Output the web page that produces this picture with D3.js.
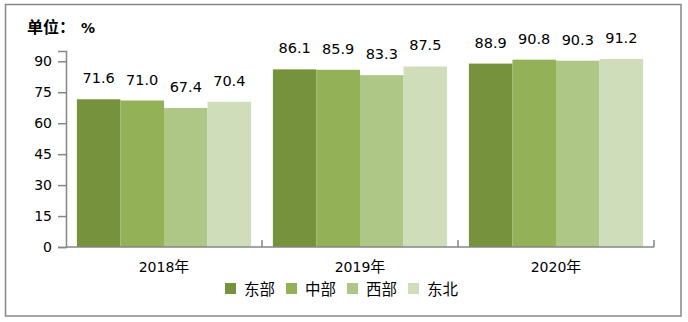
<!DOCTYPE html>
<html>
<head>
<meta charset="utf-8">
<script src="https://cdn.jsdelivr.net/npm/d3@7"></script>
<style>
  html, body { margin: 0; padding: 0; background: #fff; }
  svg { display: block; }
  .num { font-family: "DejaVu Sans", sans-serif; font-size: 14px; fill: #000; }
  .cjk { font-family: "Noto Sans CJK SC", sans-serif; fill: #000; }
</style>
</head>
<body>
<svg id="chart" width="688" height="322"></svg>
<script>
// Regional values (%) by year
const years = ["2018年", "2019年", "2020年"];
const regions = ["东部", "中部", "西部", "东北"];
const east      = [71.6, 86.1, 88.9];
const central   = [71.0, 85.9, 90.8];
const west      = [67.4, 83.3, 90.3];
const northeast = [70.4, 87.5, 91.2];
const yTicks = [0, 15, 30, 45, 60, 75, 90];
const colors = ["#77923C", "#93B157", "#AFC786", "#D0DDBA"];

const seriesValues = [east, central, west, northeast];
const rows = years.map((y, i) => ({
  year: y,
  values: regions.map((r, j) => ({ region: r, value: seriesValues[j][i], idx: j }))
}));

const svg = d3.select("#chart");

// outer frame
svg.append("rect")
  .attr("x", 5.5).attr("y", 4.5)
  .attr("width", 675.5).attr("height", 311.5)
  .attr("fill", "none").attr("stroke", "#868686").attr("stroke-width", 1.5);

const plot = { left: 66, right: 654, top: 51, bottom: 247 };

const x0 = d3.scaleBand().domain(years).range([plot.left, plot.right]).paddingInner(0).paddingOuter(0);
const x1 = d3.scaleBand().domain(regions).range([0, x0.bandwidth()]).paddingInner(0).paddingOuter(0.25);
const y = d3.scaleLinear().domain([0, 95]).range([plot.bottom, plot.top]);

const axisColor = "#868686";

// y axis
const yAxis = svg.append("g")
  .attr("transform", `translate(${plot.left},0)`)
  .call(d3.axisLeft(y).tickValues(yTicks).tickSize(8).tickPadding(6).tickFormat(d3.format("d")));
yAxis.select(".domain").attr("stroke", axisColor).attr("stroke-width", 1.5);
yAxis.selectAll(".tick line").attr("stroke", axisColor).attr("stroke-width", 1.5);
yAxis.selectAll(".tick text").attr("class", "num").attr("fill", "#000").style("font-size", "14px");

// bars
const groups = svg.append("g").selectAll("g")
  .data(rows).join("g")
  .attr("transform", d => `translate(${x0(d.year)},0)`);

groups.selectAll("rect")
  .data(d => d.values).join("rect")
  .attr("x", d => x1(d.region))
  .attr("width", x1.bandwidth())
  .attr("y", d => y(d.value))
  .attr("height", d => y(0) - y(d.value))
  .attr("fill", d => colors[d.idx]);

groups.selectAll("text")
  .data(d => d.values).join("text")
  .attr("class", "num")
  .style("font-size", "14.5px")
  .attr("x", d => x1(d.region) + x1.bandwidth() / 2)
  .attr("y", d => y(d.value) - 16)
  .attr("text-anchor", "middle")
  .text(d => d.value.toFixed(1));

// x axis: baseline with category dividers pointing up
const xAxisG = svg.append("g");
xAxisG.append("line")
  .attr("x1", plot.left).attr("x2", plot.right)
  .attr("y1", plot.bottom).attr("y2", plot.bottom)
  .attr("stroke", axisColor).attr("stroke-width", 1.5);
const bounds = years.map(d => x0(d)).concat([plot.right]);
xAxisG.selectAll("line.div")
  .data(bounds.slice(1)).join("line")
  .attr("class", "div")
  .attr("x1", d => d).attr("x2", d => d)
  .attr("y1", plot.bottom).attr("y2", plot.bottom - 7)
  .attr("stroke", axisColor).attr("stroke-width", 1.5);

xAxisG.selectAll("text")
  .data(years).join("text")
  .attr("x", d => x0(d) + x0.bandwidth() / 2)
  .attr("y", 272)
  .attr("text-anchor", "middle")
  .each(function(d) {
    const t = d3.select(this);
    t.append("tspan").attr("class", "num").text(d.replace("年", ""));
    t.append("tspan").attr("class", "cjk").style("font-size", "15px").text("年");
  });

// unit label
const unit = svg.append("text").attr("x", 27).attr("y", 33).style("font-weight", "bold");
unit.append("tspan").attr("class", "cjk").style("font-size", "16px").text("单位：");
unit.append("tspan").attr("class", "num").attr("dx", 6).style("font-weight", "bold").text("%");

// legend
const legend = svg.append("g").selectAll("g")
  .data(regions).join("g")
  .attr("transform", (d, i) => `translate(${225 + i * 61},283)`);
legend.append("rect")
  .attr("width", 11).attr("height", 11)
  .attr("fill", (d, i) => colors[i]);
legend.append("text")
  .attr("class", "cjk")
  .attr("x", 19).attr("y", 11.5)
  .style("font-size", "15.5px")
  .text(d => d);
</script>
</body>
</html>
